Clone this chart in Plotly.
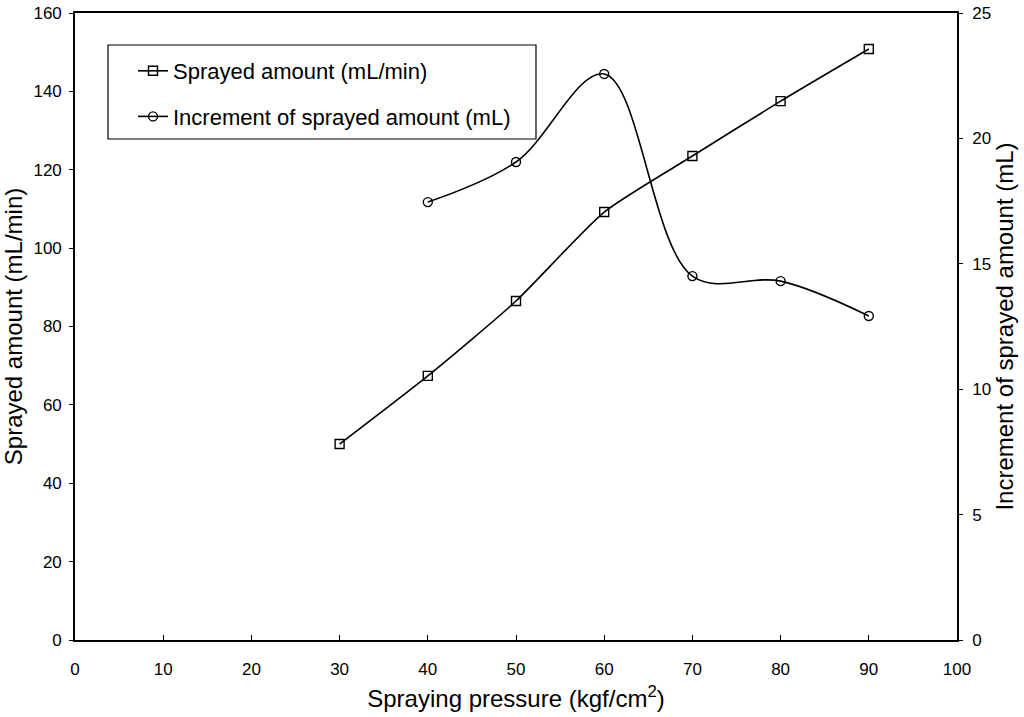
import plotly.graph_objects as go

# Spraying pressure (kgf/cm2)
pressure_amount = [30, 40, 50, 60, 70, 80, 90]
sprayed_amount = [50.0, 67.4, 86.5, 109.2, 123.5, 137.5, 150.8]

pressure_increment = [40, 50, 60, 70, 80, 90]
increment_amount = [17.46, 19.06, 22.57, 14.51, 14.31, 12.92]

x_ticks = [0, 10, 20, 30, 40, 50, 60, 70, 80, 90, 100]
y_left_ticks = [0, 20, 40, 60, 80, 100, 120, 140, 160]
y_right_ticks = [0, 5, 10, 15, 20, 25]

font_family = "Liberation Sans, Arial, sans-serif"

fig = go.Figure()

fig.add_trace(go.Scatter(
    x=pressure_amount, y=sprayed_amount,
    name="Sprayed amount (mL/min)",
    legendgroup="a",
    mode="lines+markers",
    line=dict(color="black", width=1.6, shape="spline", smoothing=0.6),
    marker=dict(symbol="square-open", size=9, color="black", line=dict(width=1.4)),
    yaxis="y",
))

fig.add_trace(go.Scatter(
    x=pressure_increment, y=increment_amount,
    name="Increment of sprayed amount (mL)",
    legendgroup="b",
    mode="lines+markers",
    line=dict(color="black", width=1.6, shape="spline", smoothing=1.0),
    marker=dict(symbol="circle-open", size=9, color="black", line=dict(width=1.4)),
    yaxis="y2",
))

axis_common = dict(
    showgrid=False, zeroline=False, showline=True, linecolor="black", linewidth=1.6,
    tickcolor="black", automargin=False,
    tickfont=dict(size=17, color="black", family=font_family),
)

# Legend frame
fig.add_shape(
    type="rect", xref="paper", yref="paper",
    x0=(108 - 75) / 882, x1=(536 - 75) / 882,
    y0=(640 - 139) / 627, y1=(640 - 45) / 627,
    line=dict(color="black", width=1.2), fillcolor="white", layer="below",
)

fig.update_layout(
    width=1024, height=717,
    margin=dict(l=75, r=67, t=13, b=77),
    paper_bgcolor="white", plot_bgcolor="white",
    font=dict(family=font_family, color="black"),
    showlegend=True,
    legend=dict(
        x=(133 - 75) / 882, y=(640 - 50) / 627, xanchor="left", yanchor="top",
        bgcolor="rgba(0,0,0,0)", borderwidth=0,
        font=dict(size=22, color="black", family=font_family),
        traceorder="grouped", tracegroupgap=14,
    ),
    xaxis=dict(
        range=[0, 100], tickvals=x_ticks, mirror=True,
        ticks="inside", ticklen=5, ticklabelstandoff=13,
        title=dict(text="Spraying pressure (kgf/cm<sup>2</sup>)", font=dict(size=24), standoff=12),
        **axis_common,
    ),
    yaxis=dict(
        range=[0, 160], tickvals=y_left_ticks,
        ticks="outside", ticklen=4, ticklabelstandoff=4,
        title=dict(text="Sprayed amount (mL/min)", font=dict(size=24), standoff=4),
        **axis_common,
    ),
    yaxis2=dict(
        range=[0, 25], tickvals=y_right_ticks, overlaying="y", side="right",
        ticks="outside", ticklen=4, ticklabelstandoff=6,
        title=dict(text="Increment of sprayed amount (mL)", font=dict(size=24), standoff=5),
        **axis_common,
    ),
)

fig.write_html("out.html")
